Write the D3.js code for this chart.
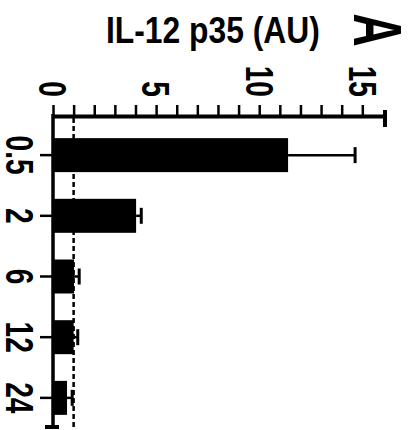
<!DOCTYPE html>
<html>
<head>
<meta charset="utf-8">
<script src="https://cdn.jsdelivr.net/npm/d3@7"></script>
<style>
  html, body { margin: 0; padding: 0; background: #fff; }
  text { font-family: "Liberation Sans", Arial, sans-serif; font-weight: bold; fill: #000; }
</style>
</head>
<body>
<svg width="413" height="430"></svg>
<script>
// time points (h) and IL-12 p35 values (AU)
var categories = ["0.5", "2", "6", "12", "24"];
var means = [11.4, 4.03, 1.02, 1.0, 0.68];
var errors = [3.25, 0.25, 0.25, 0.2, 0.25];
var baseline = 1;
var axisMax = 16.1;
var minorTicks = d3.range(0, 16);
var majorTicks = [0, 5, 10, 15];

var data = categories.map(function(c, i) { return {cat: c, mean: means[i], err: errors[i]}; });

var svg = d3.select("svg");

var x = d3.scaleLinear().domain([0, axisMax]).range([53, 385]);
var y = d3.scaleBand().domain(categories).range([126, 427]).paddingInner(0.44).paddingOuter(0.2);
var axisY = 116;
var squeeze = 0.74;   // condensed look of the printed figure

// title + panel letter
svg.append("text")
    .attr("transform", "translate(106,43) scale(0.86,1)")
    .style("font-size", "37px")
    .text("IL-12 p35 (AU)");

svg.append("text")
    .attr("transform", "translate(354,30) rotate(90) scale(0.68,1)")
    .attr("text-anchor", "middle")
    .style("font-size", "68px")
    .style("font-weight", "900")
    .text("A");

// bars
svg.selectAll(".bar")
  .data(data)
  .enter().append("rect")
    .attr("class", "bar")
    .attr("x", x(0))
    .attr("y", function(d) { return y(d.cat); })
    .attr("width", function(d) { return x(d.mean) - x(0); })
    .attr("height", y.bandwidth())
    .attr("fill", "#000");

// error bars
var eb = svg.selectAll(".err")
  .data(data)
  .enter().append("g")
    .attr("class", "err")
    .attr("stroke", "#000");

eb.append("line")
    .attr("x1", function(d) { return x(d.mean); })
    .attr("x2", function(d) { return x(d.mean + d.err); })
    .attr("y1", function(d) { return y(d.cat) + y.bandwidth() / 2; })
    .attr("y2", function(d) { return y(d.cat) + y.bandwidth() / 2; })
    .attr("stroke-width", 2.5);

eb.append("line")
    .attr("x1", function(d) { return x(d.mean + d.err); })
    .attr("x2", function(d) { return x(d.mean + d.err); })
    .attr("y1", function(d) { return y(d.cat) + y.bandwidth() / 2 - 8; })
    .attr("y2", function(d) { return y(d.cat) + y.bandwidth() / 2 + 8; })
    .attr("stroke-width", 3);

// dashed reference line at 1
svg.append("line")
    .attr("x1", x(baseline)).attr("x2", x(baseline))
    .attr("y1", axisY + 2).attr("y2", y.range()[1] + 1)
    .attr("stroke", "#000")
    .attr("stroke-width", 2.5)
    .attr("stroke-dasharray", "5,3");

// value axis (top)
var gx = svg.append("g")
    .attr("transform", "translate(0," + axisY + ")")
    .call(d3.axisTop(x).tickValues(minorTicks).tickSize(11).tickSizeOuter(0).tickFormat(""));
gx.select(".domain").attr("stroke-width", 4);
gx.selectAll(".tick line").attr("stroke-width", 2.5);

gx.append("line")
    .attr("x1", x.range()[1]).attr("x2", x.range()[1])
    .attr("y1", -6).attr("y2", 11)
    .attr("stroke", "#000").attr("stroke-width", 4);

svg.selectAll(".vlabel")
  .data(majorTicks)
  .enter().append("text")
    .attr("class", "vlabel")
    .attr("transform", function(d) { return "translate(" + x(d) + ",97) rotate(90) scale(" + squeeze + ",1)"; })
    .attr("text-anchor", "end")
    .attr("dy", "0.36em")
    .style("font-size", "38px")
    .text(function(d) { return d; });

// category axis (left)
var gy = svg.append("g")
    .attr("transform", "translate(" + x(0) + ",0)")
    .call(d3.axisLeft(y).tickSize(13).tickFormat(""));
gy.select(".domain").remove();
gy.selectAll(".tick line").attr("stroke-width", 2.5);

gy.append("line")
    .attr("x1", 0).attr("x2", 0)
    .attr("y1", axisY - 2).attr("y2", y.range()[1])
    .attr("stroke", "#000").attr("stroke-width", 3.5);
gy.append("line")
    .attr("x1", -8).attr("x2", 6)
    .attr("y1", y.range()[1]).attr("y2", y.range()[1])
    .attr("stroke", "#000").attr("stroke-width", 4);

svg.selectAll(".clabel")
  .data(categories)
  .enter().append("text")
    .attr("class", "clabel")
    .attr("transform", function(d) { return "translate(6," + (y(d) + y.bandwidth() / 2) + ") rotate(90) scale(" + squeeze + ",1)"; })
    .attr("text-anchor", "middle")
    .style("font-size", "38px")
    .text(function(d) { return d; });
</script>
</body>
</html>
